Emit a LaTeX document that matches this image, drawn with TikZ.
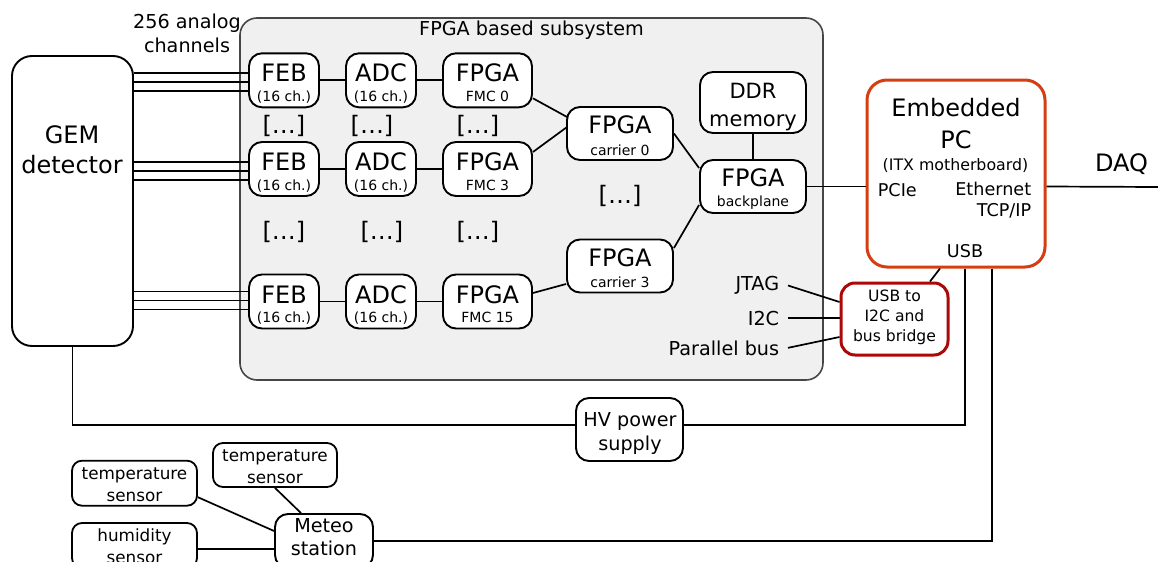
\documentclass[tikz,border=0pt]{standalone}
\usepackage{fontspec}
\setmainfont{DejaVu Sans}
\usetikzlibrary{calc}
\definecolor{subfill}{RGB}{240,240,240}
\definecolor{subline}{RGB}{70,70,70}
\definecolor{pcred}{RGB}{212,62,16}
\definecolor{brred}{RGB}{172,8,8}
\newcommand\fMain{\fontsize{12}{14}\selectfont}
\newcommand\fSubl{\fontsize{7}{8}\selectfont}
\newcommand\fMid{\fontsize{9.6}{11}\selectfont}
\newcommand\fDDR{\fontsize{10.5}{12}\selectfont}
\newcommand\fPCs{\fontsize{8.8}{10}\selectfont}
\newcommand\fITX{\fontsize{7.9}{9}\selectfont}
\newcommand\fBr{\fontsize{7.8}{9}\selectfont}
\newcommand\fSens{\fontsize{8.4}{10}\selectfont}
% #1 name, #2 x, #3 y, #4 width, #5 height, #6 main text, #7 main baseline offset, #8 sub text, #9 sub baseline offset
\newcommand\blk[9]{%
  \node[box, minimum width=#4, minimum height=#5] (#1) at (#2,#3) {};
  \node[lbl, font=\fMain] (#1-m) at ($(#1.center)+(0,#7)$) {#6};
  \node[lbl, font=\fSubl] (#1-s) at ($(#1.center)+(0,#9)$) {#8};}
\begin{document}
\begin{tikzpicture}[x=0.5pt,y=-0.5pt, line width=0.85pt,
  box/.style={draw, fill=white, rounded corners=6.5pt, line width=0.95pt, inner sep=0pt},
  sbox/.style={draw, fill=white, rounded corners=5pt, line width=0.9pt, inner sep=0pt},
  lbl/.style={anchor=base, inner sep=0pt},
  dots/.style={inner sep=0pt, font=\fMain},
  wire/.style={line width=0.85pt},
]
\useasboundingbox (0,0) rectangle (1158,562);

% FPGA subsystem background
\node[draw=subline, fill=subfill, rounded corners=8.5pt, line width=0.8pt,
      minimum width=291.5pt, minimum height=181pt, inner sep=0pt] (sub) at (531.5,199) {};
\node[lbl, font=\fMid] (subtitle) at (531.5,35.5) {FPGA based subsystem};

% analog channels label
\node[lbl, font=\fMid] (ch1) at (187,28) {256 analog};
\node[lbl, font=\fMid] (ch2) at (187,52.7) {channels};

% GEM detector
\node[draw, fill=white, rounded corners=10pt, line width=0.95pt, inner sep=0pt,
      minimum width=60.5pt, minimum height=145pt] (gem) at (72.5,201) {};
\node[lbl, font=\fMain] (gemA) at (72,143) {GEM};
\node[lbl, font=\fMain] (gemB) at (72,173) {detector};

% rows
\blk{feb1}{284}{80.3}{35pt}{27pt}{FEB}{1.5}{(16 ch.)}{21}
\blk{adc1}{381}{80.3}{35pt}{27pt}{ADC}{1.5}{(16 ch.)}{21}
\blk{fmc1}{487.5}{80.3}{44.5pt}{27pt}{FPGA}{1.5}{FMC 0}{21}
\blk{feb2}{284}{169}{35pt}{27pt}{FEB}{1.5}{(16 ch.)}{21}
\blk{adc2}{381}{169}{35pt}{27pt}{ADC}{1.5}{(16 ch.)}{21}
\blk{fmc2}{487.5}{169}{44.5pt}{27pt}{FPGA}{1.5}{FMC 3}{21}
\blk{feb3}{284}{301.5}{35pt}{27pt}{FEB}{1.5}{(16 ch.)}{21}
\blk{adc3}{381}{301.5}{35pt}{27pt}{ADC}{1.5}{(16 ch.)}{21}
\blk{fmc3}{487.5}{301.5}{44.5pt}{27pt}{FPGA}{1.5}{FMC 15}{21}

\blk{car0}{620}{133.5}{53pt}{26.5pt}{FPGA}{0}{carrier 0}{21.5}
\blk{car3}{620}{266}{53pt}{26.5pt}{FPGA}{0}{carrier 3}{21}
\blk{bp}{753}{186.5}{53pt}{26.5pt}{FPGA}{0}{backplane}{20}

\node[box, minimum width=53pt, minimum height=30.5pt] (ddr) at (753,102.5) {};
\node[lbl, font=\fDDR] (ddrA) at (753,98.3) {DDR};
\node[lbl, font=\fDDR] (ddrB) at (753,126.7) {memory};

% ellipses
\node[dots] (d11) at (284,126) {[…]};
\node[dots] (d12) at (372,126) {[…]};
\node[dots] (d13) at (478,126) {[…]};
\node[dots] (d21) at (284,232) {[…]};
\node[dots] (d22) at (382,232) {[…]};
\node[dots] (d23) at (478,232) {[…]};
\node[dots] (dmid) at (620,196) {[…]};

% bus labels
\node[lbl, anchor=base east, inner xsep=4pt, font=\fMid] (jtag) at (788,290.7) {JTAG};
\node[lbl, anchor=base east, inner xsep=4pt, font=\fMid] (i2c) at (788,325) {I2C};
\node[lbl, anchor=base east, inner xsep=4pt, font=\fMid] (par) at (788,355) {Parallel bus};

% Embedded PC
\node[draw=pcred, fill=white, rounded corners=10pt, line width=1.5pt, inner sep=0pt,
      minimum width=89pt, minimum height=93.5pt] (pc) at (956,173.5) {};
\node[lbl, font=\fMain] (pcA) at (956,116.7) {Embedded};
\node[lbl, font=\fMain] (pcB) at (956,148.3) {PC};
\node[lbl, font=\fITX] (pcC) at (955.5,170) {(ITX motherboard)};
\node[lbl, anchor=base west, font=\fPCs] (pcie) at (877,196) {PCIe};
\node[lbl, anchor=base east, font=\fPCs] (eth) at (1032,195) {Ethernet};
\node[lbl, anchor=base east, font=\fPCs] (tcp) at (1032,216.7) {TCP/IP};
\node[lbl, font=\fPCs] (usb) at (965,257) {USB};

\node[lbl, font=\fMain] (daq) at (1121.5,171.7) {DAQ};
\coordinate (daqEnd) at (1158,187);

% bridge
\node[draw=brred, fill=white, rounded corners=7pt, line width=1.5pt, inner sep=0pt,
      minimum width=53.5pt, minimum height=36pt] (bridge) at (894.5,319) {};
\node[lbl, font=\fBr] (brA) at (894.5,301.7) {USB to};
\node[lbl, font=\fBr] (brB) at (894.5,321.7) {I2C and};
\node[lbl, font=\fBr] (brC) at (894.5,341.7) {bus bridge};

% HV power supply
\node[box, minimum width=53.5pt, minimum height=31.5pt] (hv) at (629.5,429.5) {};
\node[lbl, font=\fMid] (hvA) at (630,426.7) {HV power};
\node[lbl, font=\fMid] (hvB) at (630,450) {supply};

% sensors and meteo
\node[sbox, minimum width=62.5pt, minimum height=22.5pt] (t1) at (134.5,483.2) {};
\node[lbl, font=\fSens] (t1A) at (134.5,479) {temperature};
\node[lbl, font=\fSens] (t1B) at (134.5,501) {sensor};
\node[sbox, minimum width=62pt, minimum height=22pt] (t2) at (275,465) {};
\node[lbl, font=\fSens] (t2A) at (275,461.7) {temperature};
\node[lbl, font=\fSens] (t2B) at (275,483.3) {sensor};
\node[sbox, minimum width=62.5pt, minimum height=22.5pt] (hum) at (134.5,545.5) {};
\node[lbl, font=\fSens] (humA) at (134.5,541.7) {humidity};
\node[lbl, font=\fSens] (humB) at (134.5,563.5) {sensor};
\node[box, minimum width=49pt, minimum height=27pt] (met) at (324,541) {};
\node[lbl, font=\fMid] (metA) at (324,532.7) {Meteo};
\node[lbl, font=\fMid] (metB) at (324,555) {station};

% ---- connectors ----
\foreach \r/\s in {1/1.5,2/2,3/-1}{
  \foreach \d in {-9,0,9}{
    \draw[wire] ($(feb\r.west)+(0,\d+\s)$) coordinate (tmp) -- (tmp -| gem.east);
  }
  \draw[wire] (feb\r) -- (adc\r);
  \draw[wire] (adc\r) -- (fmc\r);
}
\draw[wire] ($(fmc1.east)+(0,18)$) -- ($(car0.west)+(1,-16.5)$);
\draw[wire] ($(fmc2.east)+(0,-17)$) -- ($(car0.west)+(1,-6.5)$);
\draw[wire] ($(fmc3.east)+(0,-8.5)$) -- ($(car3.west)+(0,18)$);
\draw[wire] (car0.east) -- ($(bp.west)+(0,-18.5)$);
\draw[wire] ($(car3.east)+(0,-18)$) -- ($(bp.west)+(0,18.5)$);
\draw[wire] (ddr) -- (bp);
\draw[wire] (bp.east) -- (bp.east -| pc.west);
\draw[wire] (pc.east |- bp.east) -- (daqEnd);

\draw[wire] (jtag.east) -- ($(bridge.west)+(0,-17)$);
\draw[wire] (i2c.east) -- (i2c.east -| bridge.west);
\draw[wire] (par.east) -- ($(bridge.west)+(0,18)$);
\draw[wire] ($(pc.south)+(-16,0)$) -- ($(bridge.north)+(35.5,0)$);

\draw[wire] (gem.south) |- ($(hv.west)+(0,-4.5)$);
\draw[wire] ($(pc.south)+(9,0)$) |- ($(hv.east)+(0,-4.5)$);
\draw[wire] ($(pc.south)+(36,0)$) |- (met.east);

\draw[wire] ($(t1.east)+(0,14)$) -- ($(met.west)+(0,-10)$);
\draw[wire] (t2.south) -- ($(met.north)+(-23,0)$);
\draw[wire] ($(hum.east)+(0,3.5)$) coordinate (hm) -- (hm -| met.west);
\end{tikzpicture}
\end{document}
